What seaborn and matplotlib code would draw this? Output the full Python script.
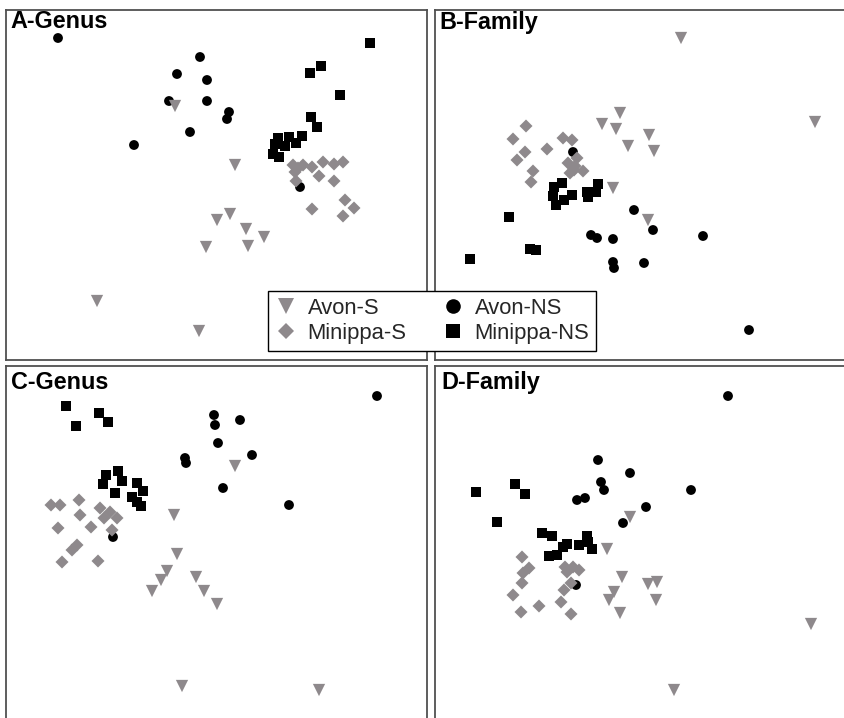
import matplotlib
matplotlib.use("Agg")
import matplotlib.pyplot as plt
from matplotlib.lines import Line2D
import pandas as pd
import seaborn as sns

sns.set_theme(style="white")
plt.rcParams["font.family"] = ["Liberation Sans", "DejaVu Sans"]

# ---------------------------------------------------------------------------
# Ordination scores (MDS1, MDS2) per group for each panel
# ---------------------------------------------------------------------------
GROUPS = ["Avon-S", "Minippa-S", "Avon-NS", "Minippa-NS"]

# A - Genus
a_avon_s_x = [175, 235, 217, 230, 246, 206, 248, 264, 97, 199]
a_avon_s_y = [106, 165, 220, 214, 229, 247, 246, 237, 301, 331]
a_minippa_s_x = [293, 303, 312, 323, 334, 343, 295, 298, 319, 334, 296, 312, 345, 354, 343]
a_minippa_s_y = [165, 165, 167, 162, 164, 162, 172, 168, 176, 181, 181, 209, 200, 208, 216]
a_avon_ns_x = [58, 200, 177, 207, 169, 207, 229, 227, 190, 134, 300]
a_avon_ns_y = [38, 57, 74, 80, 101, 101, 112, 119, 132, 145, 187]
a_minippa_ns_x = [370, 321, 310, 340, 311, 317, 302, 289, 278, 296, 285, 275, 273, 279]
a_minippa_ns_y = [43, 66, 73, 95, 117, 127, 136, 137, 138, 143, 146, 144, 154, 157]

# B - Family
b_avon_s_x = [681, 815, 620, 602, 616, 649, 628, 654, 613, 648]
b_avon_s_y = [38, 122, 113, 124, 129, 135, 146, 151, 188, 220]
b_minippa_s_x = [526, 513, 563, 572, 547, 525, 517, 568, 577, 575, 570, 583, 533, 531, 574]
b_minippa_s_y = [126, 139, 138, 140, 149, 152, 160, 163, 158, 166, 173, 171, 171, 182, 170]
b_avon_ns_x = [573, 634, 653, 591, 597, 613, 703, 613, 614, 644, 749]
b_avon_ns_y = [152, 210, 230, 235, 238, 239, 236, 262, 268, 263, 330]
b_minippa_ns_x = [554, 562, 553, 556, 564, 572, 587, 598, 596, 588, 509, 530, 536, 470]
b_minippa_ns_y = [187, 183, 196, 205, 200, 195, 192, 184, 192, 197, 217, 249, 250, 259]

# C - Genus
c_avon_s_x = [235, 174, 177, 167, 161, 152, 196, 204, 217, 182, 319]
c_avon_s_y = [466, 515, 554, 571, 580, 591, 577, 591, 604, 686, 690]
c_minippa_s_x = [51, 60, 79, 100, 80, 110, 104, 117, 58, 91, 112, 77, 72, 62, 98]
c_minippa_s_y = [505, 505, 500, 508, 515, 512, 518, 518, 528, 527, 530, 545, 550, 562, 561]
c_avon_ns_x = [377, 214, 215, 240, 218, 252, 185, 186, 223, 289, 113]
c_avon_ns_y = [396, 415, 425, 420, 443, 455, 458, 463, 488, 505, 537]
c_minippa_ns_x = [66, 76, 99, 108, 106, 118, 103, 122, 115, 137, 143, 132, 137, 141]
c_minippa_ns_y = [406, 426, 413, 422, 475, 471, 484, 481, 493, 483, 491, 497, 502, 506]

# D - Family
d_avon_s_x = [630, 607, 622, 648, 657, 614, 609, 656, 620, 811, 674]
d_avon_s_y = [517, 549, 577, 584, 582, 592, 600, 600, 613, 624, 690]
d_minippa_s_x = [522, 529, 523, 522, 565, 573, 579, 567, 571, 513, 564, 539, 561, 521, 571]
d_minippa_s_y = [557, 568, 573, 583, 567, 567, 570, 572, 583, 595, 590, 606, 602, 612, 614]
d_avon_ns_x = [728, 598, 630, 601, 604, 691, 577, 585, 646, 623, 576]
d_avon_ns_y = [396, 460, 473, 482, 490, 490, 500, 498, 507, 523, 585]
d_minippa_ns_x = [476, 515, 525, 497, 542, 552, 587, 567, 579, 592, 563, 549, 557, 588]
d_minippa_ns_y = [492, 484, 494, 522, 533, 536, 536, 544, 545, 549, 547, 556, 555, 542]

PANEL_TITLES = ["A-Genus", "B-Family", "C-Genus", "D-Family"]

# ---------------------------------------------------------------------------
# Styling
# ---------------------------------------------------------------------------
GREY = "#8e898c"
BLACK = "#000000"
PALETTE = {"Avon-S": GREY, "Minippa-S": GREY, "Avon-NS": BLACK, "Minippa-NS": BLACK}
MARKERS = {"Avon-S": "v", "Minippa-S": "D", "Avon-NS": "o", "Minippa-NS": "s"}
SIZES = {"Avon-S": 78, "Minippa-S": 44, "Avon-NS": 50, "Minippa-NS": 60}
DRAW_ORDER = ["Avon-NS", "Minippa-NS", "Avon-S", "Minippa-S"]

W, H = 845, 718
fig = plt.figure(figsize=(W / 100, H / 100), dpi=100)
fig.patch.set_facecolor("white")

# panel frames in pixels: left, right, top, bottom (visible window of each plot)
frames = [(6, 427, 10, 360), (435, 850, 10, 360), (6, 427, 366, 722), (435, 850, 366, 722)]
title_pos = [(10, 28), (439, 29), (11, 389), (441, 389)]


def panel_frame(avon_s, minippa_s, avon_ns, minippa_ns):
    parts = {
        "Avon-S": avon_s,
        "Minippa-S": minippa_s,
        "Avon-NS": avon_ns,
        "Minippa-NS": minippa_ns,
    }
    rows = []
    for g in DRAW_ORDER:
        xs, ys = parts[g]
        rows.append(pd.DataFrame({"MDS1": xs, "MDS2": ys, "group": g}))
    return pd.concat(rows, ignore_index=True)


panels = [
    panel_frame((a_avon_s_x, a_avon_s_y), (a_minippa_s_x, a_minippa_s_y),
                (a_avon_ns_x, a_avon_ns_y), (a_minippa_ns_x, a_minippa_ns_y)),
    panel_frame((b_avon_s_x, b_avon_s_y), (b_minippa_s_x, b_minippa_s_y),
                (b_avon_ns_x, b_avon_ns_y), (b_minippa_ns_x, b_minippa_ns_y)),
    panel_frame((c_avon_s_x, c_avon_s_y), (c_minippa_s_x, c_minippa_s_y),
                (c_avon_ns_x, c_avon_ns_y), (c_minippa_ns_x, c_minippa_ns_y)),
    panel_frame((d_avon_s_x, d_avon_s_y), (d_minippa_s_x, d_minippa_s_y),
                (d_avon_ns_x, d_avon_ns_y), (d_minippa_ns_x, d_minippa_ns_y)),
]

for df, (x0, x1, y0, y1), title, (tx, ty) in zip(panels, frames, PANEL_TITLES, title_pos):
    ax = fig.add_axes([x0 / W, 1 - y1 / H, (x1 - x0) / W, (y1 - y0) / H])
    sns.scatterplot(
        data=df, x="MDS1", y="MDS2",
        hue="group", style="group", size="group",
        palette=PALETTE, markers=MARKERS, sizes=SIZES,
        hue_order=GROUPS, style_order=GROUPS, size_order=GROUPS,
        linewidth=0, alpha=1, legend=False, ax=ax,
    )
    ax.set_xlim(x0, x1)
    ax.set_ylim(y1, y0)
    ax.set_xticks([])
    ax.set_yticks([])
    ax.set_xlabel("")
    ax.set_ylabel("")
    for sp in ax.spines.values():
        sp.set_color("#505050")
        sp.set_linewidth(1.3)
    fig.text(tx / W, 1 - ty / H, title, fontsize=16.8, fontweight="bold",
             ha="left", va="baseline", color="black")

# shared legend straddling the two upper panels
handles = [
    Line2D([], [], ls="none", marker="v", markersize=11.0, color=GREY, markeredgewidth=0),
    Line2D([], [], ls="none", marker="D", markersize=7.8, color=GREY, markeredgewidth=0),
    Line2D([], [], ls="none", marker="o", markersize=10.5, color=BLACK, markeredgewidth=0),
    Line2D([], [], ls="none", marker="s", markersize=10.0, color=BLACK, markeredgewidth=0),
]
leg = fig.legend(
    handles, GROUPS, ncol=2, loc="upper left",
    bbox_to_anchor=(268 / W, 1 - 291 / H), bbox_transform=fig.transFigure,
    borderaxespad=0, frameon=True, fancybox=False, framealpha=1,
    edgecolor="black", facecolor="white", fontsize=15.8,
    borderpad=0.3, handlelength=1.0, handletextpad=0.5,
    columnspacing=1.6, labelspacing=0.2,
)
leg.get_frame().set_linewidth(1.0)
leg.set_zorder(10)

fig.savefig("out.png", dpi=100, facecolor="white")
